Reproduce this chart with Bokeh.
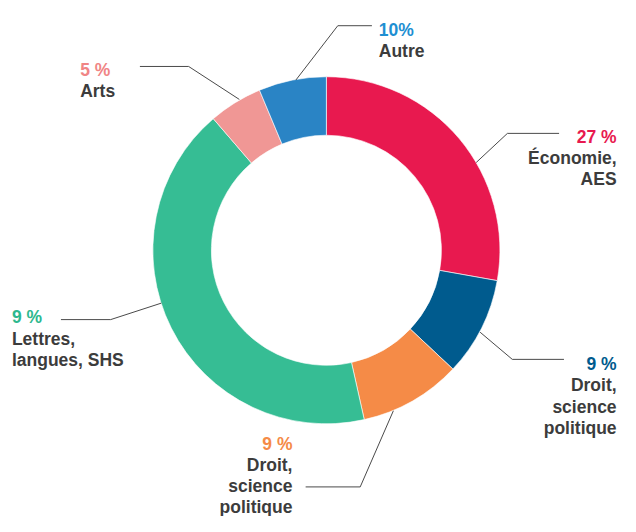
import numpy as np
from bokeh.plotting import figure
from bokeh.models import Range1d, ColumnDataSource
from bokeh.core.properties import value
from bokeh.embed import file_html
from bokeh.resources import INLINE

# ---- data (clockwise from 12 o'clock) ----
categories = ["Économie,\nAES", "Droit,\nscience\npolitique", "Droit,\nscience\npolitique",
              "Lettres,\nlangues, SHS", "Arts", "Autre"]
shares = [27.8, 9.2, 9.5, 42.2, 5.0, 6.3]
pct_labels = ["27 %", "9 %", "9 %", "9 %", "5 %", "10%"]
slice_colors = ["#E8194F", "#005B8E", "#F58B47", "#36BD94", "#F09795", "#2A84C5"]
pct_colors = ["#E8194F", "#005B8E", "#F58B47", "#2DB88E", "#F08585", "#1E8FD2"]

# ---- layout (coordinates in a 636x532 design space, scaled into the figure) ----
W, H = 620, 516
DW, DH = 636, 532
CX, CY = 334.3, 257.5
R_IN, R_OUT = 118, 178
LINE_H = 21.8
FONT = value("Liberation Sans")
FSIZE = "17.5px"
# (x, baseline y of percentage, align, leader polyline)
label_layout = [
    (632, 140.7, "right", [(488, 167), (520, 137), (573, 137)]),
    (632, 375.0, "right", [(492, 342), (525, 370), (578, 370)]),
    (299.5, 457.0, "right", [(403, 423), (369, 501.5), (313, 501.5)]),
    (11.7, 326.7, "left", [(165, 312), (113, 329), (62, 329)]),
    (81.7, 71.7, "left", [(245, 102), (193, 68), (143, 68)]),
    (388, 30.7, "left", [(303, 82), (346, 26), (381, 26)]),
]

def Y(y):
    return DH - y

p = figure(width=W, height=H, output_backend="svg", toolbar_location=None,
           x_range=Range1d(0, DW), y_range=Range1d(0, DH), min_border=0,
           background_fill_color="white", border_fill_color="white")
p.axis.visible = False
p.grid.visible = False
p.outline_line_color = None

# ---- donut ----
vals = np.array(shares, dtype=float)
frac = vals / vals.sum() * 360.0
cum = np.concatenate([[0], np.cumsum(frac)])
start = 90 - cum[:-1]
end = 90 - cum[1:]
src = ColumnDataSource(dict(start=start, end=end, color=slice_colors))
p.annular_wedge(x=CX, y=Y(CY), inner_radius=R_IN, outer_radius=R_OUT,
                start_angle="start", end_angle="end", start_angle_units="deg",
                end_angle_units="deg", direction="clock", fill_color="color",
                line_color="white", line_width=0.6, source=src)

# ---- leaders ----
xs = [[pt[0] for pt in lay[3]] for lay in label_layout]
ys = [[Y(pt[1]) for pt in lay[3]] for lay in label_layout]
p.multi_line(xs=xs, ys=ys, line_color="#4a4a4a", line_width=1)

# ---- labels ----
for cat, pct, pc, lay in zip(categories, pct_labels, pct_colors, label_layout):
    x, yb, align, _ = lay
    p.text(x=[x], y=[Y(yb)], text=[pct], text_color=pc, text_font=FONT,
           text_font_style="bold", text_font_size=FSIZE, text_align=align,
           text_baseline="alphabetic")
    for i, line in enumerate(cat.split("\n")):
        p.text(x=[x], y=[Y(yb + LINE_H * (i + 1))], text=[line], text_color="#3c3c3c",
               text_font=FONT, text_font_style="bold", text_font_size=FSIZE,
               text_align=align, text_baseline="alphabetic")

open("out.html", "w").write(file_html(p, INLINE))
